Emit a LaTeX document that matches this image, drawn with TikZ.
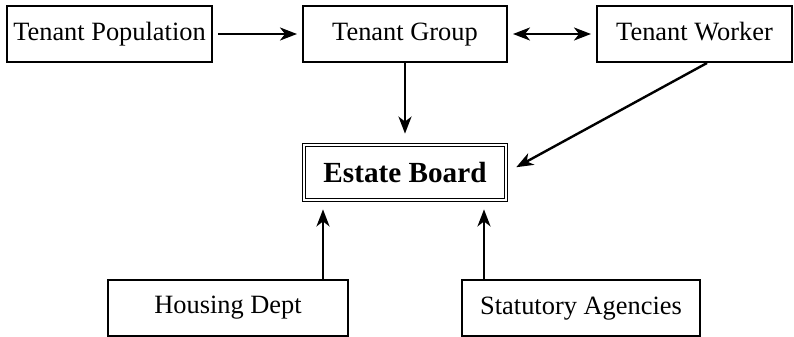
\documentclass[tikz,border=0pt]{standalone}
\usepackage{fontspec}
\setmainfont{Liberation Serif}
\usetikzlibrary{arrows.meta}
\tikzset{
  every picture/.style={line width=1pt},
  box/.style={draw, rectangle, inner sep=0pt, minimum height=28pt, text height=9.2pt, text depth=2.8pt,
    font=\fontsize{13.2}{15}\selectfont},
  board/.style={draw, rectangle, double, double distance=1pt, line width=0.6pt, inner sep=0pt,
    minimum width=101pt, minimum height=27.3pt, font=\fontsize{14.6}{17}\selectfont\bfseries},
  arrow/.style={-{Stealth[length=8.5pt, width=6.5pt, inset=2.5pt]}, line width=1.2pt},
  twoway/.style={{Stealth[length=8.5pt, width=6.5pt, inset=2.5pt]}-{Stealth[length=8.5pt, width=6.5pt, inset=2.5pt]}, line width=1.2pt},
}

\begin{document}
\begin{tikzpicture}[x=0.5pt, y=-0.5pt]
  \useasboundingbox (0,0) rectangle (794,337);
  % top row
  \node[box, minimum width=102.5pt] (pop) at (109.5,34) {Tenant Population};
  \node[box, minimum width=102pt] (group) at (405,34) {Tenant Group};
  \node[box, minimum width=97.5pt] (worker) at (694.5,34) {Tenant Worker};
  % centre
  \node[board] (board) at (405,172.5) {Estate Board};
  % bottom row
  \node[box, minimum width=120pt] (housing) at (228,307.5) {Housing Dept};
  \node[box, minimum width=119pt] (agencies) at (581,308) {Statutory Agencies};
  \coordinate (hfoot) at ([xshift=47.5pt]housing.north);
  \coordinate (afoot) at ([xshift=-48.5pt]agencies.north);
  \coordinate (wfoot) at ([xshift=6.25pt]worker.south);
  % connectors
  \draw[arrow, shorten <=2.5pt, shorten >=2.5pt] (pop.east) -- (group.west);
  \draw[twoway, shorten <=2.5pt, shorten >=2.5pt] (group.east) -- (worker.west);
  \draw[arrow, shorten >=5.5pt] (group.south) -- (board.north);
  \draw[arrow, shorten >=5.5pt] (wfoot) -- (board.east);
  \draw[arrow, shorten >=4.5pt] (hfoot) -- (hfoot |- board.south);
  \draw[arrow, shorten >=4.5pt] (afoot) -- (afoot |- board.south);
\end{tikzpicture}
\end{document}
